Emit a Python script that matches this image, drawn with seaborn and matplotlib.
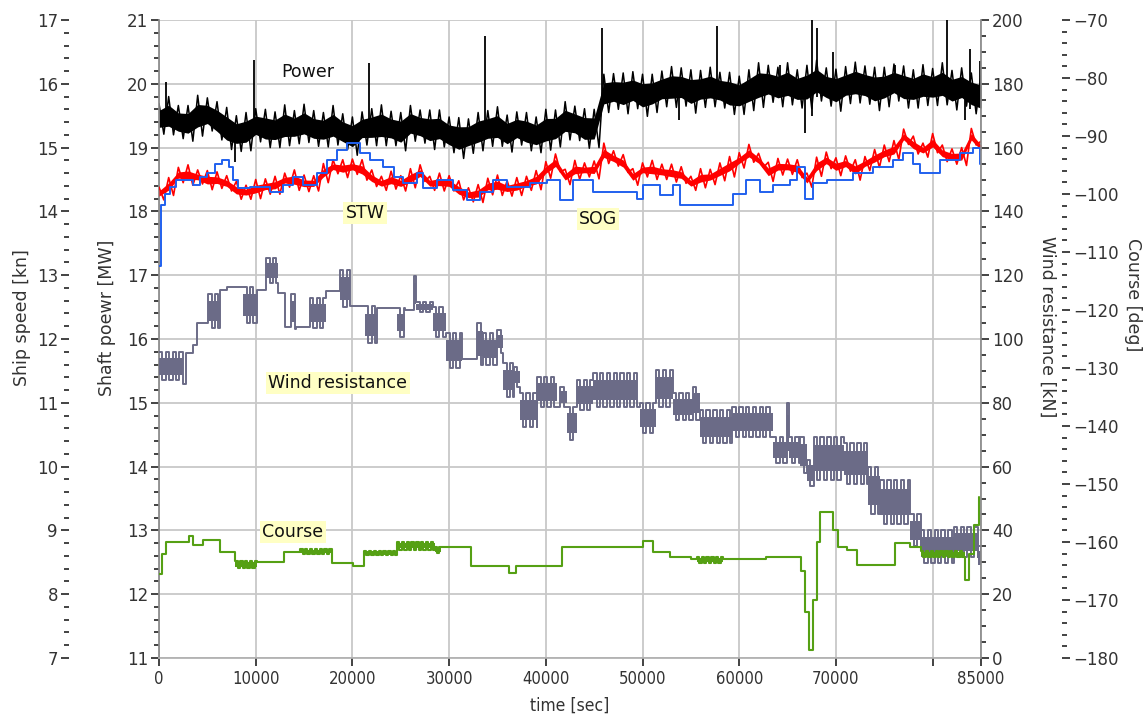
import numpy as np
import pandas as pd
import matplotlib
matplotlib.use("Agg")
import matplotlib.pyplot as plt
import seaborn as sns
from matplotlib.ticker import MultipleLocator

# ---------------- data ----------------
sample_t = np.arange(0, 85001, 1000)  # sample times [sec] for the dense signals

power_mid = [19.45, 19.50, 19.40, 19.38, 19.50, 19.52, 19.42, 19.30, 19.22, 19.25,
             19.35, 19.30, 19.28, 19.35, 19.32, 19.38, 19.30, 19.28, 19.35, 19.25,
             19.18, 19.30, 19.32, 19.35, 19.30, 19.25, 19.38, 19.33, 19.28, 19.30,
             19.20, 19.15, 19.18, 19.25, 19.30, 19.33, 19.22, 19.30, 19.25, 19.20,
             19.28, 19.30, 19.42, 19.38, 19.30, 19.30, 19.85, 19.88, 19.85, 19.90,
             19.82, 19.85, 19.92, 19.95, 19.95, 19.88, 19.92, 19.95, 19.90, 19.85,
             19.82, 19.90, 19.98, 20.00, 19.95, 20.00, 19.92, 19.95, 20.05, 19.95,
             19.90, 19.98, 20.02, 19.98, 19.92, 19.95, 20.02, 19.95, 19.92, 19.98,
             19.95, 20.00, 19.90, 19.95, 19.85, 19.80]
power_spread = [0.24, 0.30, 0.26, 0.28, 0.32, 0.26, 0.30, 0.33, 0.28, 0.30,
                0.26, 0.30, 0.28, 0.32, 0.26, 0.30, 0.28, 0.27, 0.31, 0.28,
                0.30, 0.26, 0.29, 0.32, 0.27, 0.30, 0.28, 0.26, 0.31, 0.29,
                0.28, 0.32, 0.27, 0.30, 0.28, 0.31, 0.29, 0.26, 0.30, 0.28,
                0.32, 0.29, 0.30, 0.27, 0.31, 0.30, 0.30, 0.28, 0.32, 0.29,
                0.33, 0.30, 0.28, 0.32, 0.30, 0.34, 0.29, 0.31, 0.28, 0.33,
                0.30, 0.32, 0.35, 0.29, 0.31, 0.33, 0.30, 0.34, 0.32, 0.30,
                0.33, 0.29, 0.32, 0.30, 0.34, 0.31, 0.29, 0.33, 0.30, 0.32,
                0.29, 0.33, 0.31, 0.30, 0.32, 0.33]
power_spike_t = [700, 7900, 9800, 21700, 33700, 45800, 53800, 57700, 64200, 66800,
                 67500, 68000, 69700, 76100, 81500, 83300, 83900, 84900]
power_spike_lo = [19.40, 18.77, 19.30, 19.30, 19.20, 19.80, 19.43, 19.80, 19.90, 19.23,
                  19.50, 19.80, 19.80, 19.90, 19.80, 19.43, 19.60, 19.70]
power_spike_hi = [20.03, 19.20, 20.37, 20.33, 20.75, 20.87, 19.80, 20.90, 20.30, 19.80,
                  21.00, 20.87, 20.50, 20.30, 21.00, 19.80, 20.55, 20.35]

stw_mid = [14.28, 14.39, 14.57, 14.57, 14.54, 14.49, 14.49, 14.44, 14.33, 14.30,
           14.35, 14.39, 14.41, 14.49, 14.49, 14.44, 14.44, 14.60, 14.70, 14.67,
           14.70, 14.65, 14.52, 14.44, 14.49, 14.44, 14.52, 14.60, 14.44, 14.46,
           14.44, 14.33, 14.26, 14.28, 14.39, 14.41, 14.36, 14.39, 14.44, 14.49,
           14.65, 14.76, 14.54, 14.65, 14.65, 14.65, 14.91, 14.83, 14.75, 14.54,
           14.65, 14.65, 14.62, 14.60, 14.57, 14.44, 14.52, 14.54, 14.62, 14.70,
           14.80, 14.91, 14.80, 14.62, 14.70, 14.70, 14.67, 14.49, 14.70, 14.80,
           14.70, 14.75, 14.65, 14.75, 14.83, 14.91, 14.96, 15.17, 15.04, 14.96,
           15.07, 14.91, 14.86, 14.86, 15.17, 15.00]
stw_spread = [0.10, 0.14, 0.12, 0.16, 0.11, 0.15, 0.13, 0.12, 0.14, 0.11,
              0.15, 0.12, 0.14, 0.11, 0.16, 0.13, 0.12, 0.15, 0.11, 0.14,
              0.12, 0.16, 0.13, 0.11, 0.14, 0.12, 0.15, 0.13, 0.11, 0.14,
              0.12, 0.15, 0.11, 0.14, 0.13, 0.16, 0.12, 0.14, 0.11, 0.15,
              0.13, 0.14, 0.12, 0.15, 0.11, 0.14, 0.16, 0.12, 0.14, 0.13,
              0.11, 0.15, 0.12, 0.14, 0.13, 0.11, 0.15, 0.12, 0.14, 0.16,
              0.12, 0.14, 0.11, 0.15, 0.13, 0.12, 0.14, 0.11, 0.15, 0.13,
              0.14, 0.12, 0.16, 0.11, 0.14, 0.13, 0.15, 0.12, 0.14, 0.11,
              0.15, 0.13, 0.12, 0.14, 0.13, 0.10]

sog_t = [0, 250, 600, 1100, 1800, 3550, 4250, 4950, 5800, 6500,
         7200, 7700, 8200, 9400, 11500, 12850, 13900, 14900, 16300, 17350,
         18400, 19400, 20800, 21800, 23200, 24250, 25250, 26650, 27350, 28700,
         30400, 31800, 33200, 34550, 35950, 38350, 40100, 41500, 42850, 44900,
         49400, 50100, 51800, 53200, 53900, 59400, 60750, 62150, 63500, 65250,
         65950, 66800, 67650, 69050, 71800, 73850, 75900, 76950, 78000, 78700,
         80750, 82800, 84200, 84900, 85000]
sog_kn = [13.15, 14.10, 14.28, 14.39, 14.49, 14.41, 14.54, 14.60, 14.75, 14.81,
          14.70, 14.49, 14.36, 14.39, 14.31, 14.41, 14.54, 14.41, 14.60, 14.81,
          14.96, 15.07, 14.91, 14.81, 14.70, 14.54, 14.44, 14.60, 14.36, 14.49,
          14.33, 14.18, 14.31, 14.49, 14.39, 14.44, 14.49, 14.18, 14.49, 14.31,
          14.20, 14.41, 14.25, 14.41, 14.10, 14.28, 14.49, 14.31, 14.41, 14.49,
          14.70, 14.20, 14.44, 14.49, 14.60, 14.70, 14.81, 14.91, 14.75, 14.60,
          14.81, 14.91, 14.99, 14.75, 14.75]

wind_t = [0, 2500, 2800, 3550, 3900, 5100, 6300, 7000, 8700, 10100,
          11100, 12300, 13000, 13700, 14200, 15600, 17300, 18700, 19700, 21300,
          22500, 24600, 25400, 26400, 26600, 28300, 29700, 31300, 32900, 33500,
          35000, 35600, 36700, 37300, 39100, 41200, 41500, 42150, 43200, 44900,
          49400, 49700, 51400, 53100, 55200, 55900, 59300, 63500, 64900, 65100,
          66300, 67000, 67700, 70800, 73300, 74600, 77700, 78800, 82200, 84700,
          85000]
wind_lo = [87.0, 86.0, 95.6, 98.0, 104.9, 103.5, 115.4, 116.4, 105.0, 115.4,
           117.5, 114.3, 103.9, 103.0, 103.9, 103.5, 115.0, 110.0, 110.2, 98.8,
           109.6, 100.7, 109.0, 109.0, 108.5, 100.7, 91.0, 93.6, 92.0, 92.0,
           95.6, 81.9, 85.0, 72.5, 78.8, 78.8, 78.8, 68.3, 77.7, 78.8,
           78.8, 70.4, 78.8, 74.6, 74.6, 67.3, 69.4, 61.0, 61.0, 61.0,
           58.0, 54.0, 55.8, 54.7, 45.0, 42.0, 35.0, 29.7, 31.7, 27.6,
           30.0]
wind_hi = [96.0, 86.0, 95.6, 98.0, 104.9, 114.0, 115.4, 116.4, 116.4, 115.4,
           125.3, 114.3, 103.9, 114.0, 103.9, 113.0, 115.0, 121.6, 110.2, 110.2,
           109.6, 109.6, 109.0, 119.6, 111.7, 110.0, 101.8, 93.6, 105.0, 101.8,
           102.8, 92.4, 91.3, 83.0, 88.0, 78.8, 85.0, 78.8, 87.0, 89.3,
           78.8, 79.8, 90.3, 83.0, 85.0, 77.7, 78.8, 69.4, 80.0, 69.4,
           69.4, 62.0, 69.4, 67.3, 60.0, 55.8, 45.0, 40.1, 41.2, 35.0,
           30.0]

course_t = [0, 300, 700, 3100, 3500, 4600, 6300, 7900, 10150, 12900,
            14600, 17900, 20100, 21200, 24600, 28500, 29200, 32300, 36200, 36900,
            41700, 50000, 51100, 52800, 55000, 55600, 58300, 62800, 66400, 66800,
            67200, 67600, 68000, 68300, 69700, 70200, 71100, 72200, 76100, 77700,
            78800, 83300, 83800, 84300, 84800]
course_lo = [-165.5, -162.0, -160.0, -158.9, -160.6, -159.6, -161.7, -164.5, -163.4, -161.7,
             -162.0, -163.6, -164.2, -162.3, -161.3, -161.9, -160.9, -164.2, -165.3, -164.2,
             -160.9, -159.8, -161.8, -162.6, -163.0, -163.6, -163.0, -162.5, -165.0, -172.0,
             -178.6, -170.0, -160.0, -154.8, -158.0, -160.8, -161.3, -163.9, -160.2, -160.9,
             -162.6, -166.6, -162.0, -157.0, -152.3]
course_hi = [-165.5, -162.0, -160.0, -158.9, -160.6, -159.6, -161.7, -163.2, -163.4, -161.7,
             -161.2, -163.6, -164.2, -161.5, -160.0, -160.9, -160.9, -164.2, -165.3, -164.2,
             -160.9, -159.8, -161.8, -162.6, -163.0, -162.6, -163.0, -162.5, -165.0, -172.0,
             -178.6, -170.0, -160.0, -154.8, -158.0, -160.8, -161.3, -163.9, -160.2, -160.9,
             -161.5, -166.6, -162.0, -157.0, -152.3]

x_ticks = [0, 10000, 20000, 30000, 40000, 50000, 60000, 70000, 80000, 85000]
x_ticklabels = ["0", "10000", "20000", "30000", "40000", "50000", "60000", "70000", "", "85000"]

# ---------------- styling ----------------
sns.set_theme(style="white")
plt.rcParams["font.family"] = ["DejaVu Sans"]
TXT = "#333333"
GRID = "#c8c8c8"

W, H = 1147, 718
fig = plt.figure(figsize=(W / 100, H / 100), dpi=100)
L, R, T, B = 159, 981, 20, 658
ax = fig.add_axes([L / W, 1 - B / H, (R - L) / W, (B - T) / H])
ax_speed = ax.twinx()
ax_wind = ax.twinx()
ax_course = ax.twinx()


def envelope_trace(t, lo, hi, half):
    """Noisy signal drawn as a trace running between the read upper and lower envelope."""
    xs, ys = [], []
    for ti, l, h in zip(t, lo, hi):
        xs += [ti, ti + half]
        ys += [h, l]
    return pd.DataFrame({"t": xs, "v": ys})


def envelope_steps(t, lo, hi, dt):
    """Step signal; segments with a read spread flicker between its bounds."""
    xs, ys = [], []
    n = len(t)
    for k in range(n):
        t0 = t[k]
        t1 = t[k + 1] if k + 1 < n else t[k]
        if lo[k] == hi[k] or t1 <= t0:
            xs.append(t0)
            ys.append(lo[k])
        else:
            tt, up = t0, True
            while tt < t1:
                xs.append(tt)
                ys.append(hi[k] if up else lo[k])
                up = not up
                tt += dt
    return pd.DataFrame({"t": xs, "v": ys})


def draw(axis, df, color, lw, steps):
    kw = {"drawstyle": "steps-post"} if steps else {}
    sns.lineplot(data=df, x="t", y="v", ax=axis, color=color, lw=lw, sort=False,
                 estimator=None, legend=False, **kw)


def draw_core(axis, t, lo, hi, frac, color, steps):
    """Solid core of a noisy signal: the central part of the read envelope."""
    lo = np.asarray(lo, float)
    hi = np.asarray(hi, float)
    c = (lo + hi) / 2
    h = (hi - lo) / 2 * frac
    axis.fill_between(np.asarray(t, float), c - h, c + h, color=color, linewidth=0,
                      step="post" if steps else None)


BLACK, RED, BLUE, WIND, GREEN = "#000000", "#ff0000", "#2060ee", "#6b6b87", "#55a014"

pm = np.array(power_mid)
ps = np.array(power_spread)
draw_core(ax, sample_t, pm - ps, pm + ps, 0.55, BLACK, False)
draw(ax, envelope_trace(sample_t, pm - ps, pm + ps, 500), BLACK, 1.1, False)
ax.vlines(power_spike_t, power_spike_lo, power_spike_hi, color=BLACK, lw=1.3)

sm = np.array(stw_mid)
ss = np.array(stw_spread)
draw_core(ax_speed, sample_t, sm - ss, sm + ss, 0.4, RED, False)
draw(ax_speed, envelope_trace(sample_t, sm - ss, sm + ss, 500), RED, 1.2, False)
draw(ax_speed, pd.DataFrame({"t": sog_t, "v": sog_kn}), BLUE, 1.4, True)

draw_core(ax_wind, wind_t, wind_lo, wind_hi, 0.6, WIND, True)
draw(ax_wind, envelope_steps(wind_t, wind_lo, wind_hi, 350), WIND, 1.4, True)
draw_core(ax_course, course_t, course_lo, course_hi, 0.7, GREEN, True)
draw(ax_course, envelope_steps(course_t, course_lo, course_hi, 250), GREEN, 1.5, True)

# ---------------- axes ----------------
ax.set_xlim(0, 85000)
ax.set_ylim(11, 21)
ax_speed.set_ylim(7, 17)
ax_wind.set_ylim(0, 200)
ax_course.set_ylim(-180, -70)

for a in (ax, ax_speed, ax_wind, ax_course):
    a.set_xlabel("")
    a.set_ylabel("")
    for s in a.spines.values():
        s.set_visible(False)

ax.set_xticks(x_ticks)
ax.set_xticklabels(x_ticklabels)
ax.yaxis.set_major_locator(MultipleLocator(1))
ax.yaxis.set_minor_locator(MultipleLocator(0.2))
ax.grid(True, which="major", color=GRID, lw=1.3)
ax.set_axisbelow(True)
ax.spines["left"].set_visible(True)
ax.spines["left"].set_color("#8a8a8a")
ax.spines["bottom"].set_visible(True)
ax.spines["bottom"].set_color("#b0b0b0")

ax_speed.yaxis.set_ticks_position("left")
ax_speed.spines["left"].set_position(("axes", (69 - L) / (R - L)))
ax_speed.yaxis.set_major_locator(MultipleLocator(1))
ax_speed.yaxis.set_minor_locator(MultipleLocator(0.2))

ax_wind.yaxis.set_major_locator(MultipleLocator(20))
ax_wind.yaxis.set_minor_locator(MultipleLocator(5))
ax_wind.spines["right"].set_visible(True)
ax_wind.spines["right"].set_color("#8a8a8a")

ax_course.spines["right"].set_position(("axes", (1062 - L) / (R - L)))
ax_course.yaxis.set_major_locator(MultipleLocator(10))
ax_course.yaxis.set_minor_locator(MultipleLocator(2))

for a in (ax, ax_speed, ax_wind, ax_course):
    a.tick_params(axis="y", which="major", direction="out", length=6, width=1.2,
                  color="#222222", labelsize=12, labelcolor=TXT, pad=2)
    a.tick_params(axis="y", which="minor", direction="out", length=3.5, width=1.2,
                  color="#222222")
ax.tick_params(axis="x", which="major", direction="out", length=6, width=1.2,
               color="#222222", labelsize=12, labelcolor=TXT, pad=3, bottom=True)
for lab in ax.get_xticklabels():
    lab.set_fontstretch("condensed")

# ---------------- series labels ----------------
box = dict(facecolor="#ffffc4", edgecolor="none", pad=1.5)
ax.text((308 - L) / (R - L), (B - 72) / (B - T), "Power", transform=ax.transAxes,
        ha="center", va="center", fontsize=12.5, color="#111111", zorder=10)
ax_course.text((365 - L) / (R - L), (B - 213) / (B - T), "STW", transform=ax_course.transAxes,
               ha="center", va="center", fontsize=12.5, color="#111111", bbox=box, zorder=10)
ax_course.text((598 - L) / (R - L), (B - 219) / (B - T), "SOG", transform=ax_course.transAxes,
               ha="center", va="center", fontsize=12.5, color="#111111", bbox=box, zorder=10)
ax_course.text((338 - L) / (R - L), (B - 383) / (B - T), "Wind resistance", transform=ax_course.transAxes,
               ha="center", va="center", fontsize=12.5, color="#111111", bbox=box, zorder=10)
ax_course.text((293 - L) / (R - L), (B - 532) / (B - T), "Course", transform=ax_course.transAxes,
               ha="center", va="center", fontsize=12.5, color="#111111", bbox=box, zorder=10)

# ---------------- axis titles ----------------
fig.text(22 / W, 1 - 318 / H, "Ship speed [kn]", rotation=90, ha="center", va="center",
         fontsize=12.5, color=TXT)
fig.text(107 / W, 1 - 318 / H, "Shaft poewr [MW]", rotation=90, ha="center", va="center",
         fontsize=12.5, color=TXT)
fig.text(1047 / W, 1 - 327 / H, "Wind resistance [kN]", rotation=270, ha="center", va="center",
         fontsize=12.5, color=TXT)
fig.text(1133 / W, 1 - 295 / H, "Course [deg]", rotation=270, ha="center", va="center",
         fontsize=12.5, color=TXT)
fig.text(570 / W, 1 - 706 / H, "time [sec]", ha="center", va="center", fontsize=12.5,
         color=TXT, fontstretch="condensed")

fig.savefig("out.png", dpi=100)
